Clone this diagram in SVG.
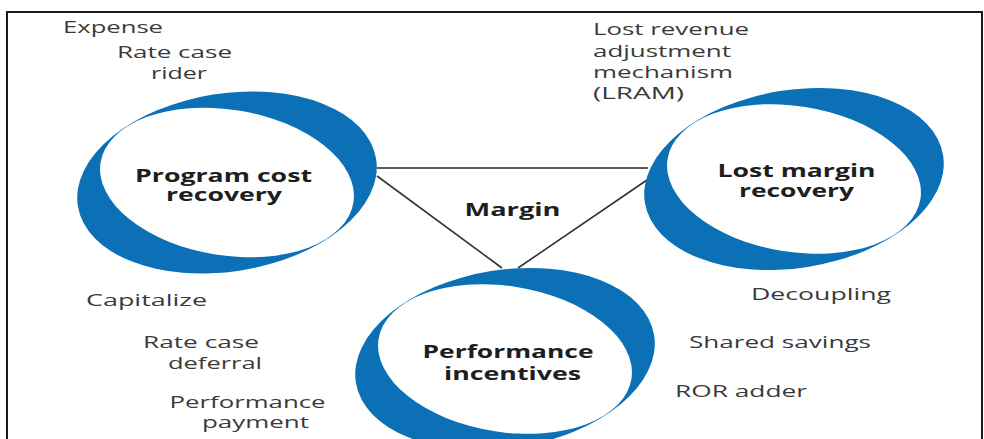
<svg xmlns="http://www.w3.org/2000/svg" xmlns:xlink="http://www.w3.org/1999/xlink" width="984" height="439" viewBox="0 0 984 439">
<style>
.bg{fill:#ffffff}
.frame{fill:none;stroke:#1a1a1a;stroke-width:2}
.ring-out{fill:#0b70b6}
.ring-in{fill:#ffffff}
.lbl{font-family:"Open Sans","Liberation Sans",sans-serif;font-size:16px;fill:#3a3a3a}
.ttl{font-family:"Open Sans","Liberation Sans",sans-serif;font-size:17px;font-weight:bold;fill:#1e1e1e}
.edge{stroke:#333333;stroke-width:1.6;fill:none}
.edge-h{stroke:#5a5a5a;stroke-width:2;fill:none}
</style>
<defs>
<g id="ring">
<ellipse class="ring-out" cx="0" cy="0" rx="151" ry="89" transform="rotate(-9)"/>
<ellipse class="ring-in" cx="0" cy="0" rx="128" ry="73" transform="rotate(9)"/>
</g>
</defs>
<rect class="bg" x="0" y="0" width="984" height="439"/>
<rect class="frame" x="7" y="12" width="975" height="440"/>
<g id="connectors">
<line class="edge-h" x1="377" y1="168" x2="648" y2="168"/>
<line class="edge" x1="377" y1="176" x2="502" y2="268"/>
<line class="edge" x1="647" y1="180" x2="518" y2="268"/>
</g>
<g id="margin">
<text class="ttl" x="464.5" y="216" textLength="96" lengthAdjust="spacingAndGlyphs">Margin</text>
</g>
<g id="program-cost-recovery">
<use xlink:href="#ring" href="#ring" transform="translate(227,182.5)"/>
<text class="ttl" x="135" y="182" textLength="177" lengthAdjust="spacingAndGlyphs">Program cost</text>
<text class="ttl" x="166" y="200.5" textLength="116" lengthAdjust="spacingAndGlyphs">recovery</text>
</g>
<g id="lost-margin-recovery">
<use xlink:href="#ring" href="#ring" transform="translate(794,179)"/>
<text class="ttl" x="717.5" y="177" textLength="158" lengthAdjust="spacingAndGlyphs">Lost margin</text>
<text class="ttl" x="739" y="197" textLength="115" lengthAdjust="spacingAndGlyphs">recovery</text>
</g>
<g id="performance-incentives">
<use xlink:href="#ring" href="#ring" transform="translate(505,359)"/>
<text class="ttl" x="422.5" y="358" textLength="171" lengthAdjust="spacingAndGlyphs">Performance</text>
<text class="ttl" x="444" y="380" textLength="137" lengthAdjust="spacingAndGlyphs">incentives</text>
</g>
<g id="labels-program-cost">
<text class="lbl" x="63" y="33" textLength="100" lengthAdjust="spacingAndGlyphs">Expense</text>
<text class="lbl" x="117" y="58" textLength="115" lengthAdjust="spacingAndGlyphs">Rate case</text>
<text class="lbl" x="151" y="79" textLength="56" lengthAdjust="spacingAndGlyphs">rider</text>
<text class="lbl" x="86" y="306" textLength="121" lengthAdjust="spacingAndGlyphs">Capitalize</text>
<text class="lbl" x="143" y="348" textLength="116" lengthAdjust="spacingAndGlyphs">Rate case</text>
<text class="lbl" x="168" y="369" textLength="94" lengthAdjust="spacingAndGlyphs">deferral</text>
<text class="lbl" x="169.5" y="408" textLength="156" lengthAdjust="spacingAndGlyphs">Performance</text>
<text class="lbl" x="202" y="428" textLength="107" lengthAdjust="spacingAndGlyphs">payment</text>
</g>
<g id="labels-lost-margin">
<text class="lbl" x="593" y="35" textLength="156" lengthAdjust="spacingAndGlyphs">Lost revenue</text>
<text class="lbl" x="593" y="56.5" textLength="138" lengthAdjust="spacingAndGlyphs">adjustment</text>
<text class="lbl" x="593" y="78" textLength="140" lengthAdjust="spacingAndGlyphs">mechanism</text>
<text class="lbl" x="593" y="98.5" textLength="91" lengthAdjust="spacingAndGlyphs">(LRAM)</text>
<text class="lbl" x="751" y="300" textLength="140" lengthAdjust="spacingAndGlyphs">Decoupling</text>
</g>
<g id="labels-performance">
<text class="lbl" x="689" y="348" textLength="182" lengthAdjust="spacingAndGlyphs">Shared savings</text>
<text class="lbl" x="675" y="397" textLength="132" lengthAdjust="spacingAndGlyphs">ROR adder</text>
</g>
</svg>
